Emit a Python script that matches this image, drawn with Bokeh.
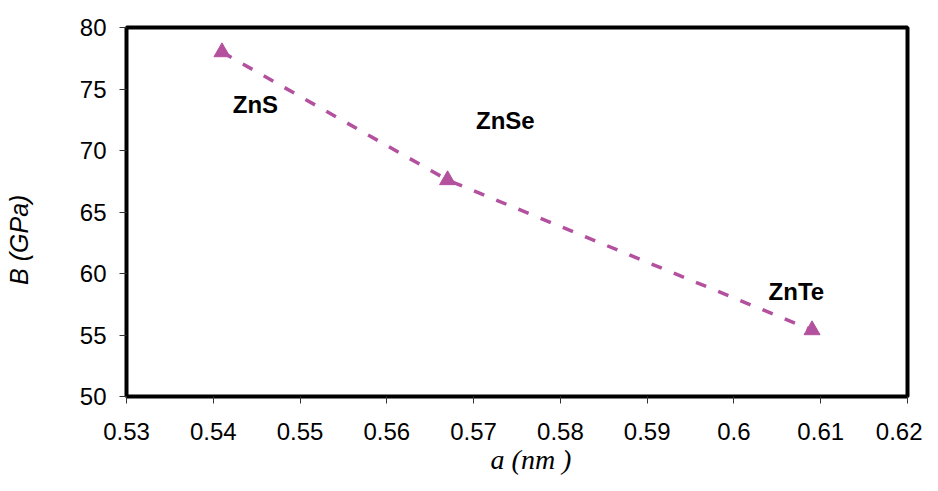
from bokeh.plotting import figure
from bokeh.models import Range1d, FixedTicker, Label
from bokeh.embed import file_html
from bokeh.resources import INLINE

# ---- data ----
compounds = ["ZnS", "ZnSe", "ZnTe"]
lattice_a = [0.541, 0.567, 0.609]        # nm
bulk_B = [78.0, 67.6, 55.4]              # GPa

x_ticks = [0.53, 0.54, 0.55, 0.56, 0.57, 0.58, 0.59, 0.60, 0.61, 0.62]
x_tick_labels = ["0.53", "0.54", "0.55", "0.56", "0.57", "0.58", "0.59", "0.6", "0.61", "0.62"]
y_ticks = [50, 55, 60, 65, 70, 75, 80]
y_tick_labels = ["50", "55", "60", "65", "70", "75", "80"]

# label anchor positions (data units)
label_x = [0.54486, 0.57366, 0.60719]
label_y = [73.7, 72.45, 58.5]

x_title = "\u00a0\u00a0\u00a0\u00a0a (nm )"
y_title = "B (GPa)\u00a0\u00a0\u00a0\u00a0\u00a0\u00a0\u00a0\u00a0"

COLOR = "#B4519E"

p = figure(width=922, height=480, output_backend="svg", toolbar_location=None,
           x_range=Range1d(0.53, 0.62), y_range=Range1d(50, 80),
           min_border_left=126, min_border_right=15, min_border_top=27, min_border_bottom=84)

p.background_fill_color = "white"
p.border_fill_color = "white"
p.outline_line_color = "black"
p.outline_line_width = 4
p.xgrid.visible = False
p.ygrid.visible = False

p.xaxis.ticker = FixedTicker(ticks=x_ticks)
p.xaxis.major_label_overrides = {t: l for t, l in zip(x_ticks, x_tick_labels)}
p.yaxis.ticker = FixedTicker(ticks=y_ticks)
p.yaxis.major_label_overrides = {t: l for t, l in zip(y_ticks, y_tick_labels)}

for ax in (p.xaxis, p.yaxis):
    ax.axis_line_color = None
    ax.major_tick_in = 0
    ax.major_tick_out = 7
    ax.major_tick_line_color = "#333333"
    ax.major_tick_line_width = 1
    ax.minor_tick_line_color = None
    ax.major_label_text_font = "Liberation Sans"
    ax.major_label_text_font_size = "24px"
    ax.major_label_text_color = "black"
p.xaxis.major_label_standoff = 19
p.yaxis.major_label_standoff = 13

p.xaxis.axis_label = x_title
p.xaxis.axis_label_text_font = "Liberation Serif"
p.xaxis.axis_label_text_font_style = "italic"
p.xaxis.axis_label_text_font_size = "28px"
p.xaxis.axis_label_text_color = "black"
p.xaxis.axis_label_standoff = 1

p.yaxis.axis_label = y_title
p.yaxis.axis_label_text_font = "Liberation Sans"
p.yaxis.axis_label_text_font_style = "italic"
p.yaxis.axis_label_text_font_size = "25px"
p.yaxis.axis_label_text_color = "black"
p.yaxis.axis_label_standoff = 44

p.line(lattice_a, bulk_B, line_color=COLOR, line_width=3.5, line_dash="11 13")
p.scatter(lattice_a, bulk_B, marker="triangle", size=16, fill_color=COLOR, line_color=COLOR)

for name, lx, ly in zip(compounds, label_x, label_y):
    p.add_layout(Label(x=lx, y=ly, text=name, text_align="center", text_baseline="alphabetic",
                       text_font="Liberation Sans", text_font_style="bold",
                       text_font_size="24px", text_color="black"))

open("out.html", "w").write(file_html(p, INLINE))
